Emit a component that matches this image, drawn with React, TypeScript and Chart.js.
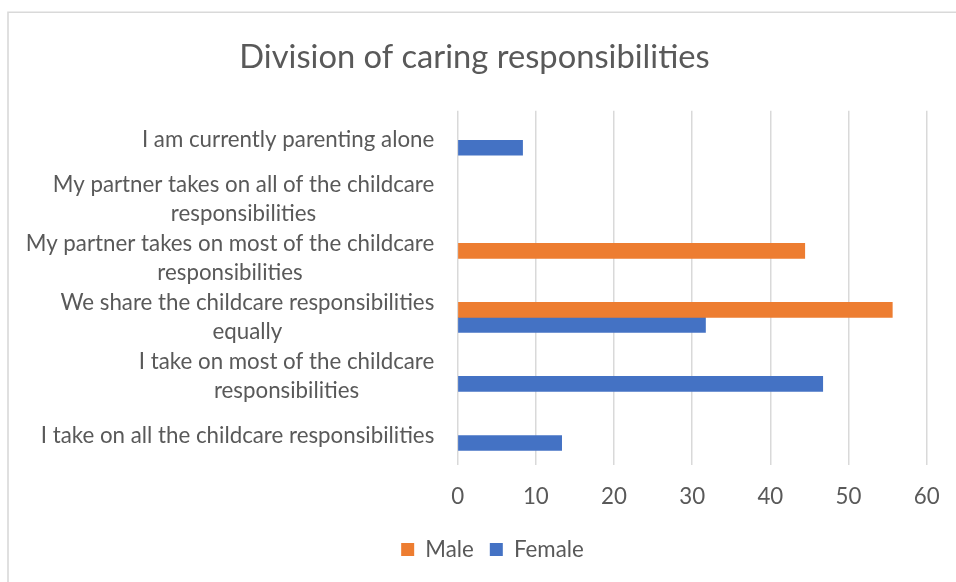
import React, { useEffect, useRef } from "react";
import { Chart, registerables } from "chart.js";

Chart.register(...registerables);

const TITLE = "Division of caring responsibilities";
const categories: string[][] = [
  ["I am currently parenting alone"],
  ["My partner takes on all of the childcare", "responsibilities"],
  ["My partner takes on most of the childcare", "responsibilities"],
  ["We share the childcare responsibilities", "equally"],
  ["I take on most of the childcare", "responsibilities"],
  ["I take on all the childcare responsibilities"],
];
const seriesNames = ["Male", "Female"];
const maleValues: (number | null)[] = [null, null, 44.4, 55.6, null, null];
const femaleValues: (number | null)[] = [8.3, null, null, 31.7, 46.7, 13.3];
const xTicks = [0, 10, 20, 30, 40, 50, 60];

const FONT = "Lato";
const TEXT = "#595959";
const GRID = "#d9d9d9";
const ORANGE = "#ED7D31";
const BLUE = "#4472C4";
const LABEL_SIZE = 22.3;
const TITLE_SIZE = 32.7;
const LINE_H = 28.5;

const frame = {
  id: "frame",
  beforeDraw(chart: any) {
    const ctx = chart.ctx;
    ctx.save();
    ctx.strokeStyle = GRID;
    ctx.lineWidth = 1.6;
    ctx.beginPath();
    ctx.moveTo(8, chart.height);
    ctx.lineTo(8, 12.3);
    ctx.lineTo(chart.width, 12.3);
    ctx.stroke();
    ctx.restore();
  },
};

const legendShift = {
  id: "legendShift",
  afterLayout(chart: any) {
    const lg = chart.legend;
    if (lg) {
      lg.left += 18;
      lg.right += 18;
    }
  },
};

const yLabels = {
  id: "yLabels",
  afterDraw(chart: any) {
    const scale = chart.scales.y;
    const ctx = chart.ctx;
    ctx.save();
    ctx.font = `${LABEL_SIZE}px ${FONT}`;
    ctx.fillStyle = TEXT;
    ctx.textAlign = "center";
    ctx.textBaseline = "middle";
    const right = scale.right - 23.4;
    scale.ticks.forEach((_t: any, i: number) => {
      const lines = categories[i];
      const w = Math.max(...lines.map((l) => ctx.measureText(l).width));
      const cx = right - w / 2;
      const y = scale.getPixelForTick(i);
      lines.forEach((l, j) => {
        ctx.fillText(l, cx, y + (j - (lines.length - 1) / 2) * LINE_H);
      });
    });
    ctx.restore();
  },
};

export default function App() {
  const ref = useRef<HTMLCanvasElement>(null);
  useEffect(() => {
    if (!ref.current) return;
    const chart = new Chart(ref.current, {
      type: "bar",
      data: {
        labels: categories,
        datasets: [
          { label: seriesNames[0], data: maleValues, backgroundColor: ORANGE, barThickness: 15 },
          { label: seriesNames[1], data: femaleValues, backgroundColor: BLUE, barThickness: 15 },
        ],
      },
      plugins: [frame, legendShift, yLabels],
      options: {
        animation: false,
        responsive: false,
        indexAxis: "y",
        layout: { padding: { left: 1, right: 8, top: 0, bottom: 11.35 } },
        plugins: {
          title: {
            display: true,
            text: TITLE,
            color: TEXT,
            font: { family: FONT, size: TITLE_SIZE, weight: "normal", lineHeight: 1.2 },
            padding: { top: 37.4, bottom: 34.06 },
          },
          legend: {
            position: "bottom",
            labels: {
              boxWidth: 13,
              boxHeight: 13,
              padding: 16,
              color: TEXT,
              font: { family: FONT, size: LABEL_SIZE },
            },
          },
          tooltip: { enabled: false },
        },
        scales: {
          x: {
            min: 0,
            max: 60,
            afterBuildTicks: (s: any) => {
              s.ticks = xTicks.map((v) => ({ value: v }));
            },
            ticks: { color: TEXT, font: { family: FONT, size: LABEL_SIZE }, padding: 18.3 },
            grid: { color: GRID, lineWidth: 1.5, drawTicks: false },
            border: { display: false },
            afterFit: (s: any) => {
              s.height = 57.35;
              s.paddingRight = 29.3;
            },
          },
          y: {
            ticks: { display: false },
            grid: { display: false },
            border: { display: false },
            afterFit: (s: any) => {
              s.width = 456.7;
            },
          },
        },
      } as any,
    });
    return () => chart.destroy();
  }, []);
  return (
    <div style={{ position: "absolute", left: 0, top: 0, width: 956, height: 582, background: "#fff" }}>
      <canvas ref={ref} width={956} height={582} style={{ display: "block", width: 956, height: 582 }} />
    </div>
  );
}
